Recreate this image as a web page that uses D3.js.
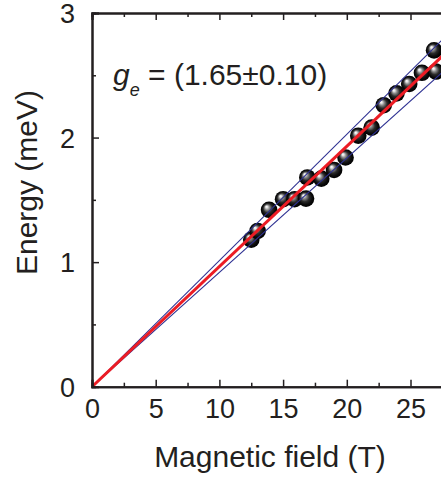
<!DOCTYPE html>
<html><head><meta charset="utf-8">
<script src="https://cdn.jsdelivr.net/npm/d3@7"></script>
<style>
html,body{margin:0;padding:0;background:#fff;}
svg{display:block;font-family:"Liberation Sans",Arial,sans-serif;}
</style></head>
<body>
<script>
// Data
const fieldT = [12.5, 13.0, 13.9, 15.0, 15.9, 16.8, 16.9, 18.0, 19.0, 19.9, 20.9, 21.95, 22.9, 23.9, 24.9, 25.9, 26.85, 27.0];
const energyMeV = [1.18, 1.25, 1.42, 1.505, 1.505, 1.51, 1.68, 1.67, 1.74, 1.84, 2.015, 2.08, 2.26, 2.355, 2.43, 2.52, 2.70, 2.53];
const fitSlopes = [0.0918, 0.0965, 0.1013]; // meV/T : lower bound, fit, upper bound
const fitColors = ["#2e3192", "#ec1c24", "#2e3192"];
const fitWidths = [1.1, 3, 1.1];
const xMajorTicks = [0, 5, 10, 15, 20, 25];
const xMinorTicks = [2.5, 7.5, 12.5, 17.5, 22.5, 27.5];
const yMajorTicks = [0, 1, 2, 3];
const yMinorTicks = [0.5, 1.5, 2.5];

(function () {
const W = 441, H = 480;
const svg = d3.select("body").append("svg").attr("width", W).attr("height", H);
const x = d3.scaleLinear().domain([0, 28]).range([92, 92 + 28 * 12.74]);
const y = d3.scaleLinear().domain([0, 3]).range([386.7, 13]);
const ink = "#231f20";

const defs = svg.append("defs");
const grad = defs.append("radialGradient").attr("id", "ball")
  .attr("cx", "50%").attr("cy", "50%").attr("r", "50%").attr("fx", "33%").attr("fy", "30%");
[[0, "#ffffff"], [0.12, "#e6e6e6"], [0.3, "#8a8a8a"], [0.55, "#2a2a2a"], [0.8, "#0a0a0a"], [1, "#000"]]
  .forEach(([o, c]) => grad.append("stop").attr("offset", o).attr("stop-color", c));
defs.append("clipPath").attr("id", "plot").append("rect")
  .attr("x", x(0)).attr("y", y(3)).attr("width", x(28) - x(0)).attr("height", y(0) - y(3));

// Points
const pts = fieldT.map((b, i) => ({b, e: energyMeV[i]}));
svg.append("g").selectAll("circle").data(pts).join("circle")
  .attr("cx", d => x(d.b)).attr("cy", d => y(d.e)).attr("r", 8.3)
  .attr("fill", "url(#ball)");

// Fit lines (bounds first, fit on top)
const lg = svg.append("g").attr("clip-path", "url(#plot)");
[0, 2, 1].forEach(i => {
  lg.append("line").attr("x1", x(0)).attr("y1", y(0)).attr("x2", x(28)).attr("y2", y(fitSlopes[i] * 28))
    .attr("stroke", fitColors[i]).attr("stroke-width", fitWidths[i]);
});

// Axes
const axG = svg.append("g");
const axBottom = axG.append("g").attr("transform", `translate(0,${y(0)})`)
  .call(d3.axisBottom(x).tickValues(xMajorTicks).tickSize(-7).tickPadding(14).tickFormat(d3.format("d")));
axG.append("g").attr("transform", `translate(0,${y(0)})`)
  .call(d3.axisBottom(x).tickValues(xMinorTicks).tickSize(-4).tickFormat(""));
axG.append("g").attr("transform", `translate(0,${y(3)})`)
  .call(d3.axisTop(x).tickValues(xMajorTicks).tickSize(-7).tickFormat(""));
axG.append("g").attr("transform", `translate(0,${y(3)})`)
  .call(d3.axisTop(x).tickValues(xMinorTicks).tickSize(-4).tickFormat(""));
const axLeft = axG.append("g").attr("transform", `translate(${x(0)},0)`)
  .call(d3.axisLeft(y).tickValues(yMajorTicks).tickSize(-7).tickPadding(17).tickFormat(d3.format("d")));
axG.append("g").attr("transform", `translate(${x(0)},0)`)
  .call(d3.axisLeft(y).tickValues(yMinorTicks).tickSize(-4).tickFormat(""));

axG.selectAll(".domain").attr("stroke", ink).attr("stroke-width", 2);
axG.selectAll(".tick line").attr("stroke", ink).attr("stroke-width", 1.5);
axG.selectAll(".tick text").attr("fill", ink).attr("font-size", 27)
  .attr("font-family", "'Liberation Sans',Arial,sans-serif");
axBottom.selectAll(".tick text").attr("dy", null).attr("y", 31);
axLeft.selectAll(".tick text").attr("dy", "0.35em");

// Axis titles
svg.append("text").attr("x", 270).attr("y", 467).attr("text-anchor", "middle")
  .attr("font-size", 30).attr("fill", ink).text("Magnetic field (T)");
svg.append("text").attr("transform", "translate(37,182.5) rotate(-90)").attr("text-anchor", "middle")
  .attr("font-size", 30).attr("fill", ink).text("Energy (meV)");

// Annotation
const ann = svg.append("text").attr("x", 113).attr("y", 85).attr("font-size", 30).attr("fill", ink);
ann.append("tspan").attr("font-style", "italic").text("g");
ann.append("tspan").attr("font-style", "italic").attr("font-size", 18).attr("dy", 11).text("e");
ann.append("tspan").attr("dy", -11).text(" = (1.65±0.10)");
})();
</script>
</body></html>
